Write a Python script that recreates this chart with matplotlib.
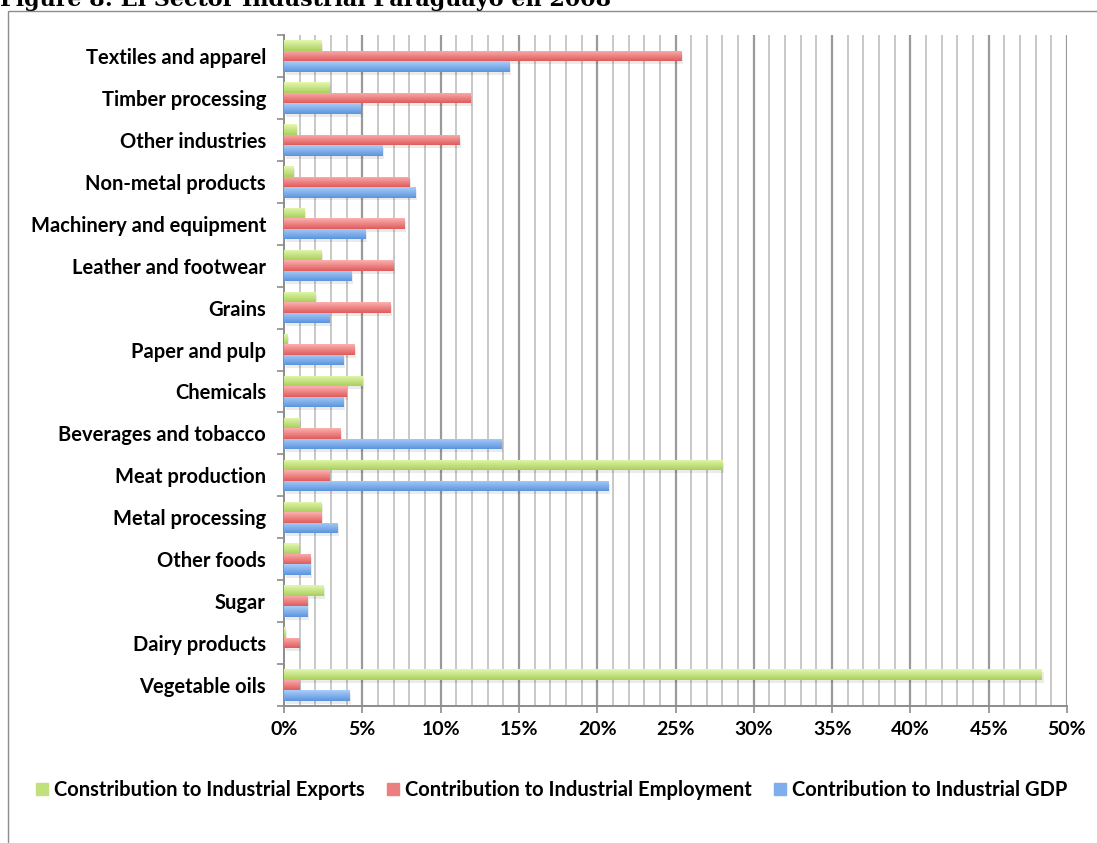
import numpy as np
import matplotlib.pyplot as plt
from matplotlib.colors import LinearSegmentedColormap
from matplotlib.patches import Rectangle
from matplotlib.lines import Line2D

sectors = ["Textiles and apparel", "Timber processing", "Other industries",
           "Non-metal products", "Machinery and equipment", "Leather and footwear",
           "Grains", "Paper and pulp", "Chemicals", "Beverages and tobacco",
           "Meat production", "Metal processing", "Other foods", "Sugar",
           "Dairy products", "Vegetable oils"]

exports = [2.4, 2.9, 0.8, 0.6, 1.3, 2.4, 2.0, 0.2, 5.0, 1.0, 28.0, 2.4, 0.9, 2.5, 0.1, 48.4]
employment = [25.4, 11.9, 11.2, 8.0, 7.7, 7.0, 6.8, 4.5, 4.0, 3.6, 2.9, 2.4, 1.7, 1.5, 1.0, 1.0]
gdp = [14.4, 4.9, 6.3, 8.4, 5.2, 4.3, 2.9, 3.8, 3.8, 13.9, 20.7, 3.4, 1.7, 1.5, 0.0, 4.2]

series_names = ["Constribution to Industrial Exports",
                "Contribution to Industrial Employment",
                "Contribution to Industrial GDP"]

# (light top, dark bottom) for each series
shades = [("#e4f7b0", "#aad05c"), ("#fbb0b0", "#e05c5c"), ("#a9cdf8", "#5c95de")]
flat = ["#c2e07e", "#ec7e7e", "#7eaeec"]

font = "Lato"

fig = plt.figure(figsize=(10.97, 8.43), dpi=100)
ax = fig.add_axes([284 / 1097, 1 - 706 / 843, 783 / 1097, 671 / 843])

# outer frame of the chart area
fig.patches.append(Rectangle((8 / 1097, -0.1), 1.2, 1 - 11 / 843 + 0.1,
                             transform=fig.transFigure, fill=False,
                             edgecolor="#8c8c8c", lw=1.0, zorder=0))
fig.text(0.0, 1 - 6 / 843, "Figure 8: El Sector Industrial Paraguayo en 2008",
         fontsize=16, fontweight="bold", family="DejaVu Serif",
         ha="left", va="baseline")

y = np.arange(len(sectors))
h = 0.25
offsets = [-h, 0.0, h]

for vals, off, (c1, c2), fc in zip([exports, employment, gdp], offsets, shades, flat):
    cmap = LinearSegmentedColormap.from_list("g", [c1, c2])
    grad = np.linspace(0, 1, 32).reshape(-1, 1)
    # soft drop shadow
    ax.barh(y + off + 0.07, vals, height=h, left=0.1, color="black",
            alpha=0.08, lw=0, zorder=2)
    bars = ax.barh(y + off, vals, height=h, color=fc, lw=0, zorder=3)
    for b in bars:
        w = b.get_width()
        if w <= 0:
            continue
        y0 = b.get_y()
        im = ax.imshow(grad, cmap=cmap, aspect="auto", zorder=4,
                       extent=(0, w, y0 + h, y0), interpolation="bilinear")
        im.set_clip_path(b)

ax.set_xlim(0, 50)
ax.set_ylim(len(sectors) - 0.5, -0.5)

# vertical grid, every 1% with darker 5% lines
for v in range(1, 51):
    major = v % 5 == 0
    ax.axvline(v, color="#9a9a9a" if major else "#c8c8c8",
               lw=1.6 if major else 1.4, zorder=1)

ax.set_xticks(np.arange(0, 51, 5))
ax.set_xticklabels([f"{v}%" for v in range(0, 51, 5)])
ax.set_yticks(np.arange(-0.5, len(sectors), 1.0))
ax.set_yticklabels([])
ax.set_yticks(y, minor=True)
ax.set_yticklabels(sectors, minor=True)
ax.tick_params(axis="y", which="minor", length=0, pad=13)
ax.tick_params(axis="y", which="major", length=5, color="#8c8c8c", width=1.2)
ax.tick_params(axis="x", length=5, color="#8c8c8c", width=1.2, pad=6)

for lbl in ax.get_yticklabels(minor=True):
    lbl.set_fontsize(14.5)
    lbl.set_fontweight("bold")
    lbl.set_family(font)
for lbl in ax.get_xticklabels():
    lbl.set_fontsize(14)
    lbl.set_fontweight("bold")
    lbl.set_family(font)

for s in ["top", "right"]:
    ax.spines[s].set_visible(False)
for s in ["left", "bottom"]:
    ax.spines[s].set_color("#8c8c8c")
    ax.spines[s].set_linewidth(1.4)

handles = [Line2D([], [], marker="s", ls="", markersize=9, markerfacecolor=c,
                  markeredgecolor=c) for c in flat]
fig.legend(handles, series_names, loc="center", bbox_to_anchor=(0.5, 1 - 790 / 843),
           ncol=3, frameon=False, handletextpad=0.0, columnspacing=0.8,
           handlelength=1.2,
           prop={"family": font, "weight": "bold", "size": 14.5})

fig.savefig("out.png", dpi=100)
